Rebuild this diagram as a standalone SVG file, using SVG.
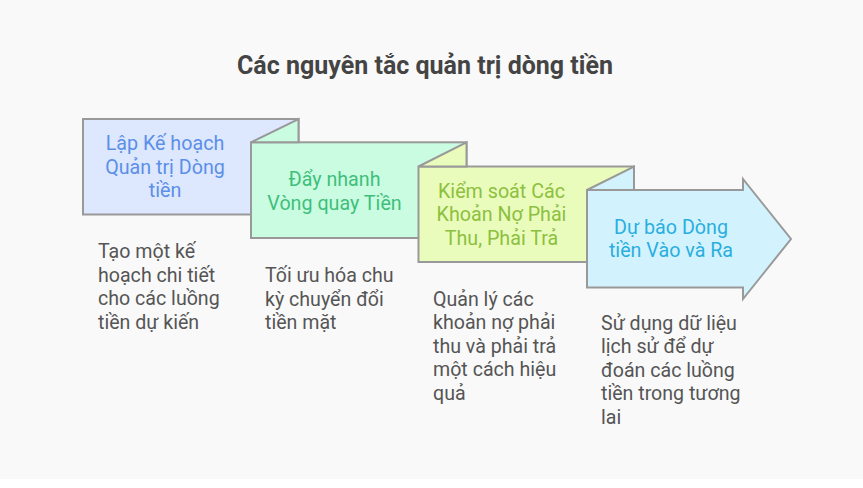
<svg xmlns="http://www.w3.org/2000/svg" width="863" height="488" viewBox="0 0 863 488">
<style>
.shape{stroke:#999999;stroke-width:2;stroke-linejoin:miter}
.lbl{font-family:Roboto,"Liberation Sans",sans-serif;font-size:19.7px;text-anchor:middle}
.desc{font-family:Roboto,"Liberation Sans",sans-serif;font-size:19.6px;fill:#555555}
.title{font-family:Roboto,"Liberation Sans",sans-serif;font-size:25px;font-weight:bold;fill:#444444;text-anchor:middle}
.b1{fill:#dde7fd}.t1{fill:#5b8fe8}
.b2{fill:#c9fce1}.t2{fill:#3fbf7b}
.b3{fill:#eafcbc}.t3{fill:#8cc03f}
.b4{fill:#d2f3fd}.t4{fill:#2aaee0}
</style>
<rect x="0" y="0" width="863" height="479" fill="#f9f9f9"/>
<rect x="0" y="479" width="863" height="9" fill="#ffffff"/>
<text class="title" x="425" y="74">Các nguyên tắc quản trị dòng tiền</text>
<g id="connectors"></g>
<g id="node1">
<rect class="shape b1" x="83" y="119" width="215.5" height="95.5"/>
<text class="lbl t1" x="165" y="150">Lập Kế hoạch</text>
<text class="lbl t1" x="165" y="173.5">Quản trị Dòng</text>
<text class="lbl t1" x="165" y="197">tiền</text>
<text class="desc" x="98" y="258">Tạo một kế</text>
<text class="desc" x="98" y="281.5">hoạch chi tiết</text>
<text class="desc" x="98" y="305">cho các luồng</text>
<text class="desc" x="98" y="328.5">tiền dự kiến</text>
</g>
<g id="node2">
<rect class="shape b2" x="251" y="142.3" width="215.5" height="95.7"/>
<polygon class="shape b2" points="251,142.3 298.5,119 298.5,142.3"/>
<text class="lbl t2" x="334.5" y="186">Đẩy nhanh</text>
<text class="lbl t2" x="334.5" y="209.5">Vòng quay Tiền</text>
<text class="desc" x="265" y="282">Tối ưu hóa chu</text>
<text class="desc" x="265" y="305.5">kỳ chuyển đổi</text>
<text class="desc" x="265" y="329">tiền mặt</text>
</g>
<g id="node3">
<rect class="shape b3" x="418.5" y="166.5" width="215.5" height="95.5"/>
<polygon class="shape b3" points="418.5,166.5 466.5,142.3 466.5,166.5"/>
<text class="lbl t3" x="501.5" y="197.5">Kiểm soát Các</text>
<text class="lbl t3" x="501.5" y="221">Khoản Nợ Phải</text>
<text class="lbl t3" x="501.5" y="244.5">Thu, Phải Trả</text>
<text class="desc" x="433" y="305.5">Quản lý các</text>
<text class="desc" x="433" y="329">khoản nợ phải</text>
<text class="desc" x="433" y="352.5">thu và phải trả</text>
<text class="desc" x="433" y="376">một cách hiệu</text>
<text class="desc" x="433" y="399.5">quả</text>
</g>
<g id="node4">
<polygon class="shape b4" points="587,190 743,190 743,179 791,239 743,299 743,287.5 587,287.5"/>
<polygon class="shape b4" points="587,190 634,166.5 634,190"/>
<text class="lbl t4" x="671" y="233.5">Dự báo Dòng</text>
<text class="lbl t4" x="671" y="257">tiền Vào và Ra</text>
<text class="desc" x="601" y="329.5">Sử dụng dữ liệu</text>
<text class="desc" x="601" y="353">lịch sử để dự</text>
<text class="desc" x="601" y="376.5">đoán các luồng</text>
<text class="desc" x="601" y="400">tiền trong tương</text>
<text class="desc" x="601" y="423.5">lai</text>
</g>
</svg>
